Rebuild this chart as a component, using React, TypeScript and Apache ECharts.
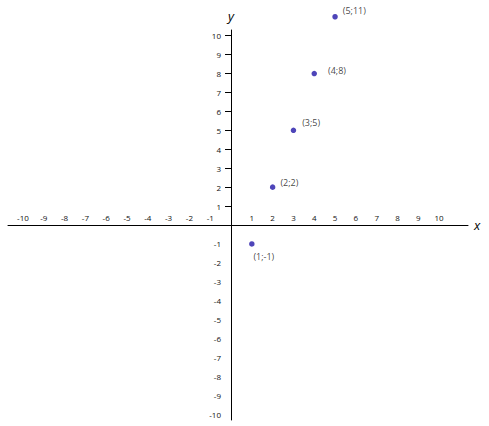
import React, { useEffect, useRef } from "react";
import * as echarts from "echarts";

const xTickValues = [-10, -9, -8, -7, -6, -5, -4, -3, -2, -1, 1, 2, 3, 4, 5, 6, 7, 8, 9, 10];
const yTickValues = [-10, -9, -8, -7, -6, -5, -4, -3, -2, -1, 1, 2, 3, 4, 5, 6, 7, 8, 9, 10];
const yTickMarks = [1, 2, 3, 4, 5, 6, 7, 8, 9, 10];
const pointX = [1, 2, 3, 4, 5];
const pointY = [-1, 2, 5, 8, 11];
const pointLabels = ["(1;-1)", "(2;2)", "(3;5)", "(4;8)", "(5;11)"];

const labelPlacement: Record<string, { position: string; offset: number[] }> = {
  "(1;-1)": { position: "bottom", offset: [12, 0] },
  "(2;2)": { position: "right", offset: [0, -5] },
  "(3;5)": { position: "right", offset: [1, -8] },
  "(4;8)": { position: "right", offset: [6, -3] },
  "(5;11)": { position: "right", offset: [0, -6] },
};

const X_MIN = -10.72;
const X_MAX = 11.39;
const Y_MIN = -10.3;
const Y_MAX = 10.3;
const GRID = { left: 8, right: 21, top: 30, bottom: 6 };
const W = 489;
const H = 426;

export default function App() {
  const ref = useRef<HTMLDivElement>(null);
  useEffect(() => {
    if (!ref.current) return;
    const chart = echarts.init(ref.current, null, { renderer: "svg" });
    const font = "'Open Sans', 'Liberation Sans', sans-serif";
    const gw = W - GRID.left - GRID.right;
    const gh = H - GRID.top - GRID.bottom;
    const yAxisOffset = -((0 - X_MIN) / (X_MAX - X_MIN)) * gw;
    const xAxisOffset = -((0 - Y_MIN) / (Y_MAX - Y_MIN)) * gh;
    chart.setOption({
      animation: false,
      backgroundColor: "#ffffff",
      grid: { ...GRID, containLabel: false, outerBoundsMode: "none" },
      xAxis: {
        type: "value",
        position: "bottom",
        offset: xAxisOffset,
        min: X_MIN,
        max: X_MAX,
        name: "x",
        nameLocation: "end",
        nameGap: 6,
        nameTextStyle: { fontStyle: "italic", fontSize: 13, color: "#000", fontFamily: font },
        axisLine: { onZero: false, lineStyle: { color: "#000", width: 1 } },
        axisTick: { show: false },
        splitLine: { show: false },
        axisLabel: {
          inside: true,
          margin: 4,
          customValues: xTickValues,
          fontSize: 8,
          color: "#111",
          fontFamily: font,
        },
      },
      yAxis: {
        type: "value",
        position: "left",
        offset: yAxisOffset,
        min: Y_MIN,
        max: Y_MAX,
        name: "y",
        nameLocation: "end",
        nameGap: 8,
        nameTextStyle: { fontStyle: "italic", fontSize: 13, color: "#000", fontFamily: font },
        axisLine: { onZero: false, lineStyle: { color: "#000", width: 1 } },
        axisTick: { show: true, length: 6, customValues: yTickMarks, lineStyle: { color: "#000" } },
        splitLine: { show: false },
        axisLabel: {
          margin: 10,
          customValues: yTickValues,
          fontSize: 8,
          color: "#111",
          fontFamily: font,
        },
      },
      series: [
        {
          type: "scatter",
          clip: false,
          symbolSize: 5.5,
          itemStyle: { color: "#2216a8" },
          data: pointX.map((x, i) => {
            const lbl = pointLabels[i];
            const pl = labelPlacement[lbl];
            return {
              value: [x, pointY[i]],
              label: {
                show: true,
                formatter: lbl,
                position: pl.position,
                offset: pl.offset,
                fontSize: 9,
                color: "#111",
                fontFamily: font,
              },
            };
          }),
        },
      ],
    });
    return () => chart.dispose();
  }, []);
  return (
    <div
      ref={ref}
      style={{ position: "fixed", left: 0, top: 0, width: W, height: H }}
    />
  );
}
